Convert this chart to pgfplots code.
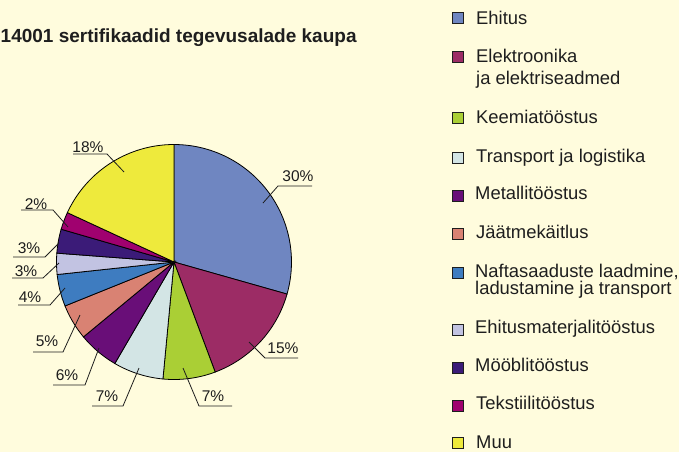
\documentclass[border=0pt]{standalone}
\usepackage{pgfplots}
\pgfplotsset{compat=1.18}
\usepackage{fontspec}
\setmainfont{Liberation Sans}
\definecolor{bg}{HTML}{FFFCDD}
\definecolor{txt}{HTML}{1E1E1E}
\definecolor{cEhitus}{HTML}{6F86C1}
\definecolor{cElektro}{HTML}{9C2C65}
\definecolor{cKeemia}{HTML}{AACF35}
\definecolor{cTransport}{HTML}{D3E5E5}
\definecolor{cMetall}{HTML}{690E78}
\definecolor{cJaatme}{HTML}{D98273}
\definecolor{cNafta}{HTML}{3E7CC0}
\definecolor{cEhitusmat}{HTML}{C2C3E2}
\definecolor{cMoobli}{HTML}{3B1B78}
\definecolor{cTekstiil}{HTML}{A0016F}
\definecolor{cMuu}{HTML}{EEEA3C}
% slice shares (%), clockwise from 12 o'clock:
% Ehitus 29.4, Elektroonika 14.9, Keemia 7.2, Transport 6.9, Metall 5.6,
% Jaatme 4.9, Nafta 4.4, Ehitusmat 2.9, Moobli 3.3, Tekstiil 2.4, Muu 18.1
\newcommand{\pieslice}[3]{%
  \addplot[fill=#1, draw=black, line width=0.8bp, domain=#2:#3, samples=60]
    ({174+117.5*cos(x)},{262-117.5*sin(x)}) -- (axis cs:174,262) -- cycle;}
\newcommand{\lblfont}{\fontsize{15.5bp}{18bp}\selectfont}
\newcommand{\legfont}{\fontsize{18.4bp}{21bp}\selectfont}
\begin{document}
\begin{tikzpicture}
\useasboundingbox (0,0) rectangle (679bp,452bp);
\fill[bg] (0,0) rectangle (679bp,452bp);
\begin{scope}
\clip (0,0) rectangle (679bp,452bp);
\begin{axis}[at={(0,0)}, anchor=south west, x=1bp, y=1bp,
  xmin=0, xmax=679, ymin=0, ymax=452, y dir=reverse,
  hide axis, clip=false, scale only axis]
\pieslice{cEhitus}{-15.84}{90}
\pieslice{cElektro}{-69.48}{-15.84}
\pieslice{cKeemia}{-95.4}{-69.48}
\pieslice{cTransport}{-120.24}{-95.4}
\pieslice{cMetall}{-140.4}{-120.24}
\pieslice{cJaatme}{-158.04}{-140.4}
\pieslice{cNafta}{-173.88}{-158.04}
\pieslice{cEhitusmat}{-184.32}{-173.88}
\pieslice{cMoobli}{-196.2}{-184.32}
\pieslice{cTekstiil}{-204.84}{-196.2}
\pieslice{cMuu}{-270}{-204.84}
% title
\node[anchor=base west, inner sep=0, text=txt, font=\bfseries\fontsize{19bp}{22bp}\selectfont]
  at (axis cs:0.5,42) {14001 sertifikaadid tegevusalade kaupa};
% leader lines
\begin{scope}[line width=0.8bp, draw=txt]
\draw (axis cs:263,203) -- (axis cs:278,186) -- (axis cs:312,186);
\draw (axis cs:249,342) -- (axis cs:265,358) -- (axis cs:298,358);
\draw (axis cs:183,368) -- (axis cs:199,406) -- (axis cs:232,406);
\draw (axis cs:139,368) -- (axis cs:123,406) -- (axis cs:92,406);
\draw (axis cs:99,348) -- (axis cs:85,385) -- (axis cs:53,385);
\draw (axis cs:80,315) -- (axis cs:63,352) -- (axis cs:33,352);
\draw (axis cs:65,288) -- (axis cs:50,305) -- (axis cs:18,305);
\draw (axis cs:59,263) -- (axis cs:43,278) -- (axis cs:12,278);
\draw (axis cs:59,243) -- (axis cs:45,257) -- (axis cs:13,257);
\draw (axis cs:68,227) -- (axis cs:53,210) -- (axis cs:21,210);
\draw (axis cs:124,172) -- (axis cs:107,154) -- (axis cs:73,154);
\end{scope}
% percent labels
\begin{scope}[every node/.style={inner sep=0, text=txt, font=\lblfont}]
\node at (axis cs:298,176) {30\%};
\node at (axis cs:283,348) {15\%};
\node at (axis cs:213,396) {7\%};
\node at (axis cs:107,396) {7\%};
\node at (axis cs:67,375) {6\%};
\node at (axis cs:47,341) {5\%};
\node at (axis cs:30,297) {4\%};
\node at (axis cs:26,271) {3\%};
\node at (axis cs:29,248) {3\%};
\node at (axis cs:36,204) {2\%};
\node at (axis cs:88,147) {18\%};
\end{scope}
% legend
\begin{scope}[every node/.style={anchor=base west, inner sep=0, text=txt, font=\legfont}]
\draw[fill=cEhitus, draw=txt, line width=0.8bp] (axis cs:452,12.5) rectangle (axis cs:463,23.5);
\node at (axis cs:476,24) {Ehitus};
\draw[fill=cElektro, draw=txt, line width=0.8bp] (axis cs:452,51.5) rectangle (axis cs:463,62.5);
\node at (axis cs:476,62.7) {Elektroonika};
\node at (axis cs:476,84.5) {ja elektriseadmed};
\draw[fill=cKeemia, draw=txt, line width=0.8bp] (axis cs:452,112) rectangle (axis cs:463,123);
\node at (axis cs:476,123) {Keemiatööstus};
\draw[fill=cTransport, draw=txt, line width=0.8bp] (axis cs:452,152) rectangle (axis cs:463,163);
\node at (axis cs:476,162.7) {Transport ja logistika};
\draw[fill=cMetall, draw=txt, line width=0.8bp] (axis cs:452,190.5) rectangle (axis cs:463,201.5);
\node at (axis cs:475,199.5) {Metallitööstus};
\draw[fill=cJaatme, draw=txt, line width=0.8bp] (axis cs:452,228.5) rectangle (axis cs:463,239.5);
\node at (axis cs:476,238) {Jäätmekäitlus};
\draw[fill=cNafta, draw=txt, line width=0.8bp] (axis cs:452,267) rectangle (axis cs:463,278);
\node at (axis cs:475,277.3) {Naftasaaduste laadmine,};
\node at (axis cs:475,294) {ladustamine ja transport};
\draw[fill=cEhitusmat, draw=txt, line width=0.8bp] (axis cs:452,324) rectangle (axis cs:463,335);
\node at (axis cs:475,333) {Ehitusmaterjalitööstus};
\draw[fill=cMoobli, draw=txt, line width=0.8bp] (axis cs:452,362) rectangle (axis cs:463,373);
\node at (axis cs:475,371.7) {Mööblitööstus};
\draw[fill=cTekstiil, draw=txt, line width=0.8bp] (axis cs:452,400.5) rectangle (axis cs:463,411.5);
\node at (axis cs:476,409.3) {Tekstiilitööstus};
\draw[fill=cMuu, draw=txt, line width=0.8bp] (axis cs:452,437.5) rectangle (axis cs:463,448.5);
\node at (axis cs:476,448) {Muu};
\end{scope}
\end{axis}
\end{scope}
\end{tikzpicture}
\end{document}
